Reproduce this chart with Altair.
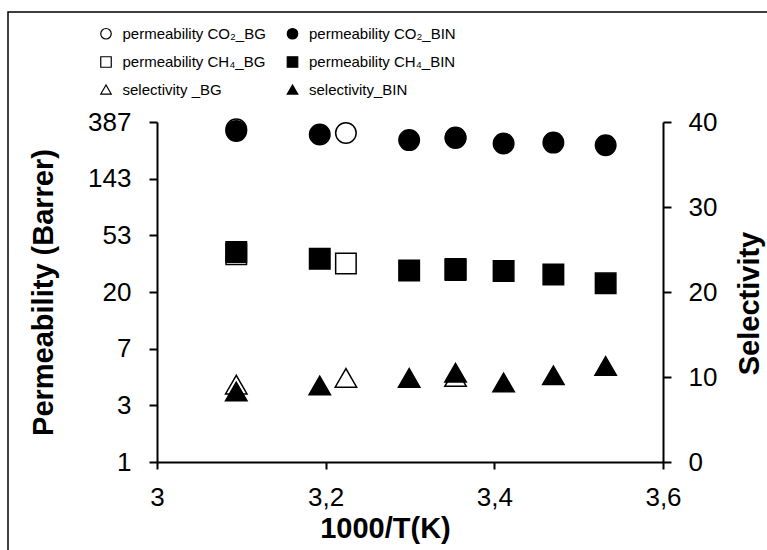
import altair as alt
import pandas as pd

FONT = "Liberation Sans"

# ---- data ----
x_bin = [3.094, 3.193, 3.299, 3.354, 3.411, 3.470, 3.532]
co2_bin = [331, 311, 282, 295, 266, 270, 258]
ch4_bin = [39.6, 35.2, 28.7, 29.0, 28.5, 26.8, 22.9]
sel_bin = [8.3, 9.0, 9.9, 10.5, 9.35, 10.2, 11.3]

x_bg = [3.094, 3.224, 3.354]
co2_bg = [341, 320, 293]
ch4_bg = [38.2, 32.5, 29.5]
sel_bg = [9.1, 9.9, 10.0]

# legend fills column by column: BG entries in column 1, BIN entries in column 2
series_names = [
    "permeability CO₂_BG", "permeability CH₄_BG", "selectivity _BG",
    "permeability CO₂_BIN", "permeability CH₄_BIN", "selectivity_BIN",
]
series_shapes = ["circle", "square", "triangle-up", "circle", "square", "triangle-up"]
series_fills = ["white", "white", "white", "black", "black", "black"]
series_strokes = ["black"] * 6

x_ticks = [3, 3.2, 3.4, 3.6]
x_tick_labels = ["3", "3,2", "3,4", "3,6"]
y_ticks = [2.7 ** k for k in range(7)]
y_tick_labels = ["1", "3", "7", "20", "53", "143", "387"]
sel_ticks = [0, 10, 20, 30, 40]

# ---- tables ----
perm_rows = []
for x, v in zip(x_bg, co2_bg):
    perm_rows.append({"x": x, "v": v, "series": series_names[0]})
for x, v in zip(x_bg, ch4_bg):
    perm_rows.append({"x": x, "v": v, "series": series_names[1]})
for x, v in zip(x_bin, co2_bin):
    perm_rows.append({"x": x, "v": v, "series": series_names[3]})
for x, v in zip(x_bin, ch4_bin):
    perm_rows.append({"x": x, "v": v, "series": series_names[4]})
perm_df = pd.DataFrame(perm_rows)

sel_rows = []
for x, v in zip(x_bg, sel_bg):
    sel_rows.append({"x": x, "v": v, "series": series_names[2]})
for x, v in zip(x_bin, sel_bin):
    sel_rows.append({"x": x, "v": v, "series": series_names[5]})
sel_df = pd.DataFrame(sel_rows)


def lookup_expr(values, labels):
    pairs = ",".join(f"'{v:.2f}': '{l}'" for v, l in zip(values, labels))
    return "{" + pairs + "}[format(datum.value, '.2f')]"


shape_scale = alt.Scale(domain=series_names, range=series_shapes)
fill_scale = alt.Scale(domain=series_names, range=series_fills)
stroke_scale = alt.Scale(domain=series_names, range=series_strokes)

legend = alt.Legend(
    title=None, orient="none", legendX=-58.5, legendY=-96, columns=2,
    columnPadding=17.5, rowPadding=11.5, symbolSize=110, labelFont=FONT,
    labelFontSize=15, labelColor="black", labelOffset=9, labelLimit=400,
    symbolStrokeWidth=1.2, padding=0,
)

axis_common = dict(
    labelFont=FONT, labelFontSize=26, labelColor="black",
    titleFont=FONT, titleFontSize=29, titleFontWeight="bold", titleColor="black",
    domainColor="black", domainWidth=2, tickColor="black", tickWidth=2,
    grid=False,
)

x_axis = alt.Axis(
    values=x_ticks, labelExpr=lookup_expr(x_ticks, x_tick_labels),
    title="1000/T(K)", titleX=228, titleY=75, titleBaseline="alphabetic",
    tickSize=7, labelPadding=15, labelFlush=False, **axis_common,
)

y_left_axis = alt.Axis(
    orient="left", values=y_ticks, labelExpr=lookup_expr(y_ticks, y_tick_labels),
    title="Permeability (Barrer)", titleAngle=270, titleBaseline="bottom",
    titleAlign="center", titleX=-99, titleY=170,
    tickSize=8, labelPadding=18, labelOverlap=False, **axis_common,
)

y_right_axis = alt.Axis(
    orient="right", values=sel_ticks, title="Selectivity", titleAngle=270,
    titleBaseline="bottom", titleAlign="center", titleX=101, titleY=181,
    tickSize=8, labelPadding=17, **axis_common,
)

x_scale = alt.Scale(domain=[3, 3.6], nice=False, zero=False)


def encodings(y):
    return dict(
        x=alt.X("x:Q", scale=x_scale, axis=x_axis),
        y=y,
        shape=alt.Shape("series:N", scale=shape_scale, legend=legend),
        fill=alt.Fill("series:N", scale=fill_scale, legend=legend),
        stroke=alt.Stroke("series:N", scale=stroke_scale, legend=legend),
    )


perm = alt.Chart(perm_df).mark_point(
    filled=False, size=420, strokeWidth=1.5, opacity=1
).encode(**encodings(
    alt.Y("v:Q", scale=alt.Scale(type="log", domain=[1, 2.7 ** 6], nice=False),
          axis=y_left_axis)
))

sel = alt.Chart(sel_df).mark_point(
    filled=False, size=460, strokeWidth=1.5, opacity=1
).encode(**encodings(
    alt.Y("v:Q", scale=alt.Scale(domain=[0, 40], nice=False, zero=True),
          axis=y_right_axis)
))

frame = alt.Chart(pd.DataFrame({"k": [0]})).mark_rect(
    fillOpacity=0, stroke="black", strokeWidth=1.5
).encode(
    x=alt.value(-149), x2=alt.value(630),
    y=alt.value(-110), y2=alt.value(460),
)

chart = alt.layer(perm, sel, frame).resolve_scale(
    y="independent"
).properties(
    width=506, height=340,
    padding={"left": 157, "top": 122, "right": 104, "bottom": 88},
    autosize=alt.AutoSizeParams(type="none"),
    background="white",
).configure_view(stroke=None)

chart.save("out.html", embed_options={"renderer": "svg", "actions": False})
